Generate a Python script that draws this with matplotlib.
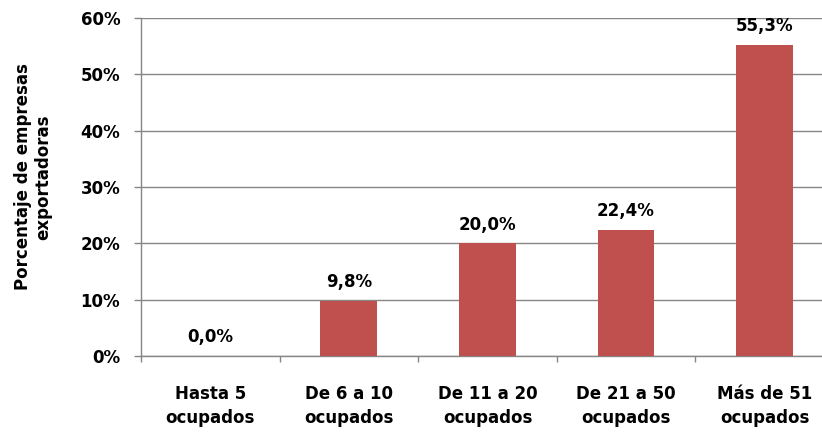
import numpy as np
import matplotlib.pyplot as plt
from matplotlib.ticker import FixedLocator, PercentFormatter

plt.rcParams['font.family'] = ['DejaVu Sans']
plt.rcParams['font.weight'] = 'bold'

categorias = ["Hasta 5\nocupados", "De 6 a 10\nocupados", "De 11 a 20\nocupados",
              "De 21 a 50\nocupados", "Más de 51\nocupados"]
valores = [0.0, 9.8, 20.0, 22.4, 55.3]
etiquetas = ["0,0%", "9,8%", "20,0%", "22,4%", "55,3%"]

gris = "#868686"
rojo = "#C0504D"

fig = plt.figure(figsize=(8.22, 4.32), dpi=100)
ax = fig.add_axes([0.1715, 0.176, 0.843, 0.782])

x = np.arange(len(categorias))
bars = ax.bar(x, valores, width=0.41, color=rojo, zorder=3)

for b, txt in zip(bars, etiquetas):
    ax.annotate(txt, (b.get_x() + b.get_width() / 2, b.get_height()),
                xytext=(0, 7), textcoords="offset points",
                ha="center", va="bottom", fontsize=12, fontweight="bold")

ax.set_ylim(0, 60)
ax.set_xlim(-0.5, len(categorias) - 0.5)
ax.set_yticks(np.arange(0, 61, 10))
ax.yaxis.set_major_formatter(PercentFormatter(decimals=0))
ax.grid(axis="y", color=gris, linewidth=1, zorder=0)

ax.set_xticks(x)
ax.set_xticklabels(categorias, fontsize=12, fontweight="bold", linespacing=1.4)
ax.xaxis.set_minor_locator(FixedLocator(np.arange(-0.5, len(categorias), 1)))
ax.tick_params(axis="x", which="major", length=0, pad=21)
ax.tick_params(axis="x", which="minor", length=4, color=gris, width=1)
ax.tick_params(axis="y", length=5, color=gris, width=1, pad=10, labelsize=12)
for lab in ax.get_yticklabels():
    lab.set_fontweight("bold")

for s in ["top", "right"]:
    ax.spines[s].set_visible(False)
for s in ["left", "bottom"]:
    ax.spines[s].set_color(gris)
    ax.spines[s].set_linewidth(1)

fig.text(33 / 822, 1 - 177 / 432, "Porcentaje de empresas\nexportadoras",
         rotation=90, ha="center", va="center", fontsize=12, fontweight="bold",
         linespacing=1.15)

fig.savefig("out.png", dpi=100)
